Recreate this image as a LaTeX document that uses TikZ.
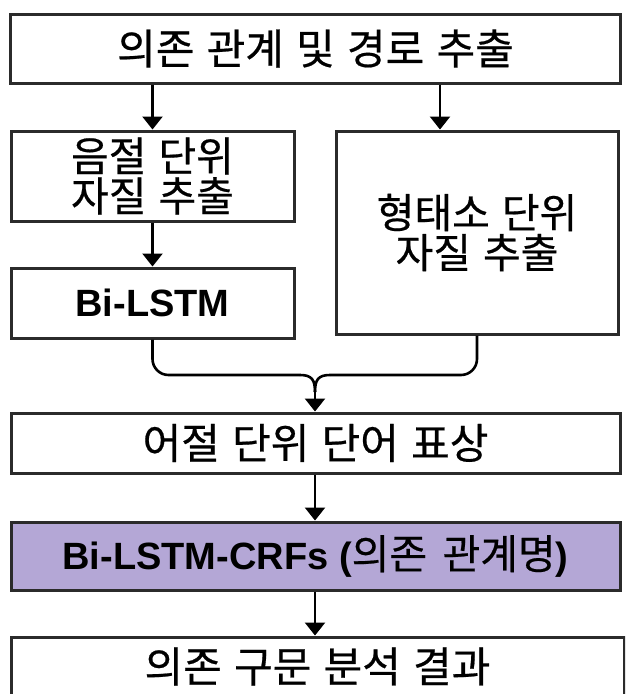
\documentclass[tikz,border=0pt]{standalone}
\usepackage{fontspec}
\setmainfont{Liberation Sans}
\newfontfamily\kr[WordSpace=2, FakeBold=0.5]{Noto Sans CJK KR}
\newfontfamily\krn[WordSpace=1.3, FakeBold=0.5]{Noto Sans CJK KR}
\usetikzlibrary{arrows.meta}
\definecolor{boxline}{HTML}{2B2B2B}
\definecolor{purplefill}{HTML}{B4A7D6}
\tikzset{
  box/.style={draw=boxline, line width=3pt, fill=white, inner sep=0pt, align=center,
    font=\fontsize{42}{40}\selectfont\kr},
  arr/.style={draw=black, line width=2.6pt, -{Triangle[width=20pt,length=13pt]}},
  conn/.style={draw=black, line width=2.6pt},
}
\begin{document}
\begin{tikzpicture}[x=1pt,y=-1pt]
\useasboundingbox (0,0) rectangle (625,694);
\begin{scope}
\clip (0,0) rectangle (625,694);
\node[box, minimum width=610pt, minimum height=69pt] (top) at (315.5,48.5) {의존 관계 및 경로 추출};
\node[box, minimum width=283pt, minimum height=90pt, font=\fontsize{41}{40}\selectfont\kr] (syl) at (152.5,176) {음절 단위\\자질 추출};
\node[box, minimum width=283pt, minimum height=70pt, font=\fontsize{38}{40}\selectfont\bfseries] (bilstm) at (152.5,303) {Bi-LSTM};
\node[box, minimum width=282pt, minimum height=203pt, font=\fontsize{41}{40}\selectfont\kr] (morph) at (477,232.5) {형태소 단위\\자질 추출};
\node[box, minimum width=609pt, minimum height=60pt] (word) at (315.5,443) {어절 단위 단어 표상};
\node[box, fill=purplefill, minimum width=609pt, minimum height=68pt, font=\fontsize{38}{40}\selectfont\bfseries] (crf) at (315.5,556) {Bi-LSTM-CRFs ({\fontsize{41}{40}\selectfont\mdseries\krn 의존 관계명})};
\node[box, minimum width=613pt, minimum height=59pt] (res) at (317.5,666.5) {의존 구문 분석 결과};

\coordinate (xr) at (440,0);
\coordinate (xm) at (315,0);
\coordinate (jl) at (300,375);
\coordinate (jr) at (330,375);
\coordinate (jm) at (315,392);

\draw[arr] (top.south -| syl.north) -- (syl.north);
\draw[arr] (top.south -| xr) -- (morph.north -| xr);
\draw[arr] (syl.south) -- (bilstm.north);

\draw[conn, rounded corners=16pt] (bilstm.south) |- (jl);
\draw[conn] (jl) .. controls (312,375) and (315,380) .. (jm);
\draw[conn, rounded corners=16pt] (morph.south) |- (jr);
\draw[conn] (jr) .. controls (318,375) and (315,380) .. (jm);
\draw[arr] (jm) -- (word.north -| xm);

\draw[arr] (word.south -| xm) -- (crf.north -| xm);
\draw[arr] (crf.south -| xm) -- (res.north -| xm);
\end{scope}
\end{tikzpicture}
\end{document}
